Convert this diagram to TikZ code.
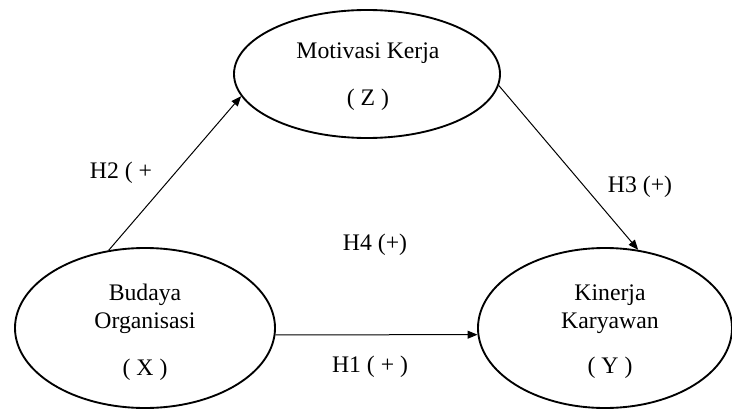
\documentclass[tikz,border=0pt]{standalone}
\usepackage{fontspec}
\setmainfont{Liberation Serif}
\usetikzlibrary{shapes}
\usetikzlibrary{arrows.meta}

\tikzset{
  var/.style={draw, ellipse, line width=1.4pt, inner sep=0pt},
  lbl/.style={inner sep=0.75pt, align=center, font=\fontsize{17.8}{21}\selectfont},
  link/.style={line width=0.75pt, -{Triangle[length=7.5pt,width=6pt]}},
}

\begin{document}
\begin{tikzpicture}[x=0.75pt,y=0.75pt,yscale=-1,xscale=1]
%set diagram left start at 0, and has height of 410
\useasboundingbox (0,0) rectangle (732,410);

%Shape: Ellipse [Z]
\node [var, minimum width=199.5pt, minimum height=96pt] (Z) at (367,74) {};
%Shape: Ellipse [X]
\node [var, minimum width=195pt, minimum height=120pt] (X) at (145,328) {};
%Shape: Ellipse [Y]
\node [var, minimum width=190.5pt, minimum height=120pt] (Y) at (605,328) {};

% Text Node
\node [lbl] (zname) at (368,53) {Motivasi Kerja};
% Text Node
\node [lbl] (zcode) at (368,100) {( Z )};
% Text Node
\node [lbl] (xname) at (145,309) {Budaya\\Organisasi};
% Text Node
\node [lbl] (xcode) at (145,370) {( X )};
% Text Node
\node [lbl] (yname) at (610,309) {Kinerja\\Karyawan};
% Text Node
\node [lbl] (ycode) at (610,368) {( Y )};

% Text Node
\node [lbl] (h2) at (121,173) {H2 ( +};
% Text Node
\node [lbl] (h3) at (640,187) {H3 (+)};
% Text Node
\node [lbl] (h4) at (375,245) {H4 (+)};
% Text Node
\node [lbl] (h1) at (370,367) {H1 ( + )};

%Straight Lines
\draw [link] (X.115) -- (Z.190);
%Straight Lines
\draw [link] (Z.355) -- (Y.67);
%Straight Lines
\draw [link] (X.-3) -- (Y.183);

\end{tikzpicture}
\end{document}
